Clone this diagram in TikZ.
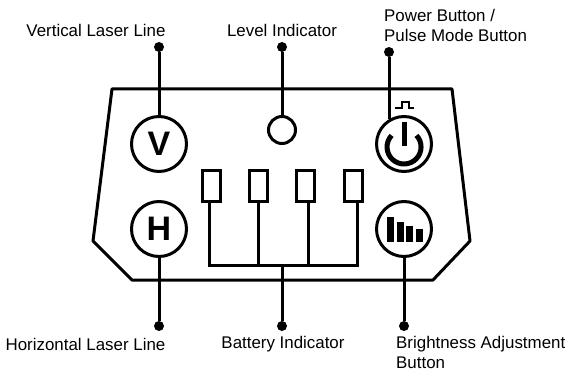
\documentclass[tikz,border=0pt]{standalone}
\usepackage{fontspec}
\setmainfont{Liberation Sans}
\usetikzlibrary{calc, positioning}
\tikzset{
	wire/.style={line width=3pt, black},
	btn/.style={draw, line width=3pt, circle, inner sep=0pt, minimum size=55pt, font=\bfseries\fontsize{34}{34}\selectfont},
	cell/.style={draw, line width=3pt, rectangle, inner sep=0pt, minimum width=18pt, minimum height=31pt},
	pin/.style={fill=black, circle, inner sep=0pt, minimum size=10pt},
	lbl/.style={inner sep=0pt, font=\fontsize{16.9}{20}\selectfont},
	bar/.style={fill=black, inner sep=0pt, minimum width=7pt, anchor=south}
}
\begin{document}
\begin{tikzpicture}[x=1pt, y=-1pt]
	\useasboundingbox (0,0) rectangle (569,371);
	% housing
	\draw[wire, line join=round] (112,89) -- (452,89) -- (470,241) -- (433,280) -- (132,280) -- (93,241) -- cycle;

	% buttons
	\node[btn] (vbtn) at (159,144) {V};
	\node[btn] (hbtn) at (159,229) {H};
	\node[btn] (pbtn) at (404,144) {};
	\node[btn] (bbtn) at (404,229) {};
	\node[draw, line width=3pt, circle, inner sep=0pt, minimum size=27pt] (level) at (282,130) {};

	% battery cells
	\node[cell] (bat1) at (211.5,186) {};
	\node[cell] (bat2) at (258.5,186) {};
	\node[cell] (bat3) at (305.5,186) {};
	\node[cell] (bat4) at (353,186) {};
	\coordinate (bus1) at (209,265);
	\coordinate (bus2) at (258,265);
	\coordinate (bus3) at (308,265);
	\coordinate (bus4) at (357,265);

	% pins
	\node[pin] (vpin) at (159,47) {};
	\node[pin] (lpin) at (282,47) {};
	\node[pin] (ppin) at (389,52) {};
	\node[pin] (hpin) at (159,326) {};
	\node[pin] (apin) at (282,326) {};
	\node[pin] (bpin) at (404,326) {};
	\coordinate (busm) at (282,265);

	% leaders
	\draw[wire] (vpin) -- (vbtn);
	\draw[wire] (lpin) -- (level);
	\draw[wire] (ppin) -- (ppin |- pbtn.120);
	\draw[wire] (hpin) -- (hbtn);
	\draw[wire] (bpin) -- (bbtn);
	\draw[wire] (apin) -- (busm);
	\draw[wire, line join=miter] (bus1 |- bat1.south) -- (bus1) -- (bus4) -- (bus4 |- bat4.south);
	\draw[wire] (bus2) -- (bus2 |- bat2.south);
	\draw[wire] (bus3) -- (bus3 |- bat3.south);

	% power symbol
	\draw[line width=5pt] (391.6,135.4) arc[start angle=137, end angle=403, radius=17pt];
	\draw[line width=5pt] (404,122) -- (404,146);
	% pulse symbol
	\draw[line width=1.8pt] (395,108) -- (402,108) -- (402,102) -- (409,102) -- (409,108) -- (414,108);

	% brightness bars
	\node[bar, minimum height=25pt] (bar1) at (390.5,242) {};
	\node[bar, minimum height=20pt] (bar2) at (400.5,242) {};
	\node[bar, minimum height=16pt] (bar3) at (409.5,242) {};
	\node[bar, minimum height=13pt] (bar4) at (419.5,242) {};

	% labels
	\node[lbl] (vlbl) at (96,30) {Vertical Laser Line};
	\node[lbl] (llbl) at (282,30) {Level Indicator};
	\node[lbl, align=left, anchor=west] (plbl) at (384,25) {Power Button /\\Pulse Mode Button};
	\node[lbl] (hlbl) at (85.5,344) {Horizontal Laser Line};
	\node[lbl] (albl) at (283,344) {Battery Indicator};
	\node[lbl, align=left, anchor=west] (blbl) at (396,352.5) {Brightness Adjustment\\Button};
\end{tikzpicture}
\end{document}
